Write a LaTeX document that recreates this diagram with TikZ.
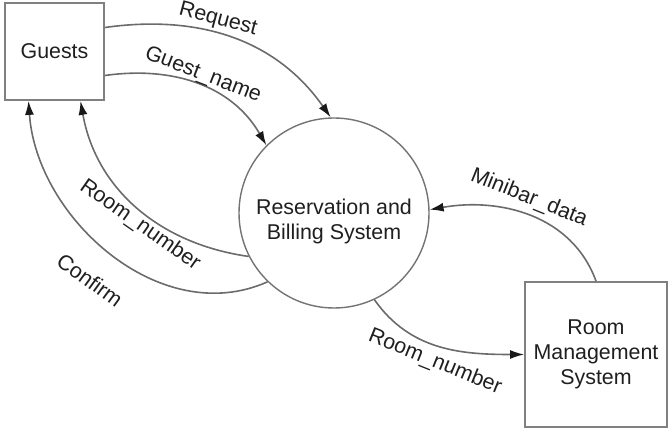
\documentclass[tikz,border=0pt]{standalone}
\usepackage{fontspec}
\setmainfont{Liberation Sans}
\usetikzlibrary{arrows.meta}

\begin{document}
\begin{tikzpicture}[x = .5pt, y = .5pt,
        every node/.style = {font=\fontsize{10.7}{12.5}\selectfont, text=black!88},
        entity/.style = {draw=black!50, line width=.9pt, align=center, inner sep=0pt},
        process/.style = {draw=black!55, circle, line width=.7pt, minimum size=95pt, inner sep=0pt},
        flow/.style = {draw=black!58, line width=.8pt, -{Latex[length=7pt,width=4.5pt,color=black!90]}}]
        \useasboundingbox (0,0) rectangle (668,428);
        % the three parts
        \node[entity, minimum width=49.5pt, minimum height=48.5pt] (guests) at (54.5,376.5) {Guests};
        \node[process, label={[align=center, yshift=-4pt]center:Reservation and\\Billing System}] (rbs) at (334,215) {};
        \node[entity, minimum width=71pt, minimum height=72.5pt] (rms) at (596,73.5) {Room\\Management\\System};
        % flows
        \draw[flow] ([yshift=12pt]guests.east) to[out=8, in=125] (rbs.92);
        \draw[flow] ([yshift=-12pt]guests.east) to[out=8, in=120] (rbs.135);
        \draw[flow] (rbs.207) to[out=172, in=-80] ([xshift=13pt]guests.south);
        \draw[flow] (rbs.226) to[out=204, in=-86] ([xshift=-13pt]guests.south);
        \draw[flow] (rms.north) to[out=110, in=10] (rbs.2);
        \draw[flow] (rbs.295) to[out=-55, in=180] (rms.west);
        % labels
        \node[rotate=-15] (request) at (218,408) {Request};
        \node[rotate=-21] (guestname) at (203,353) {Guest\_name};
        \node[rotate=-35] (roomback) at (140,203) {Room\_number};
        \node[rotate=-36] (confirm) at (90,148) {Confirm};
        \node[rotate=-22] (minibar) at (529,230) {Minibar\_data};
        \node[rotate=-22] (roomfwd) at (435,66) {Room\_number};
    \end{tikzpicture}
\end{document}
